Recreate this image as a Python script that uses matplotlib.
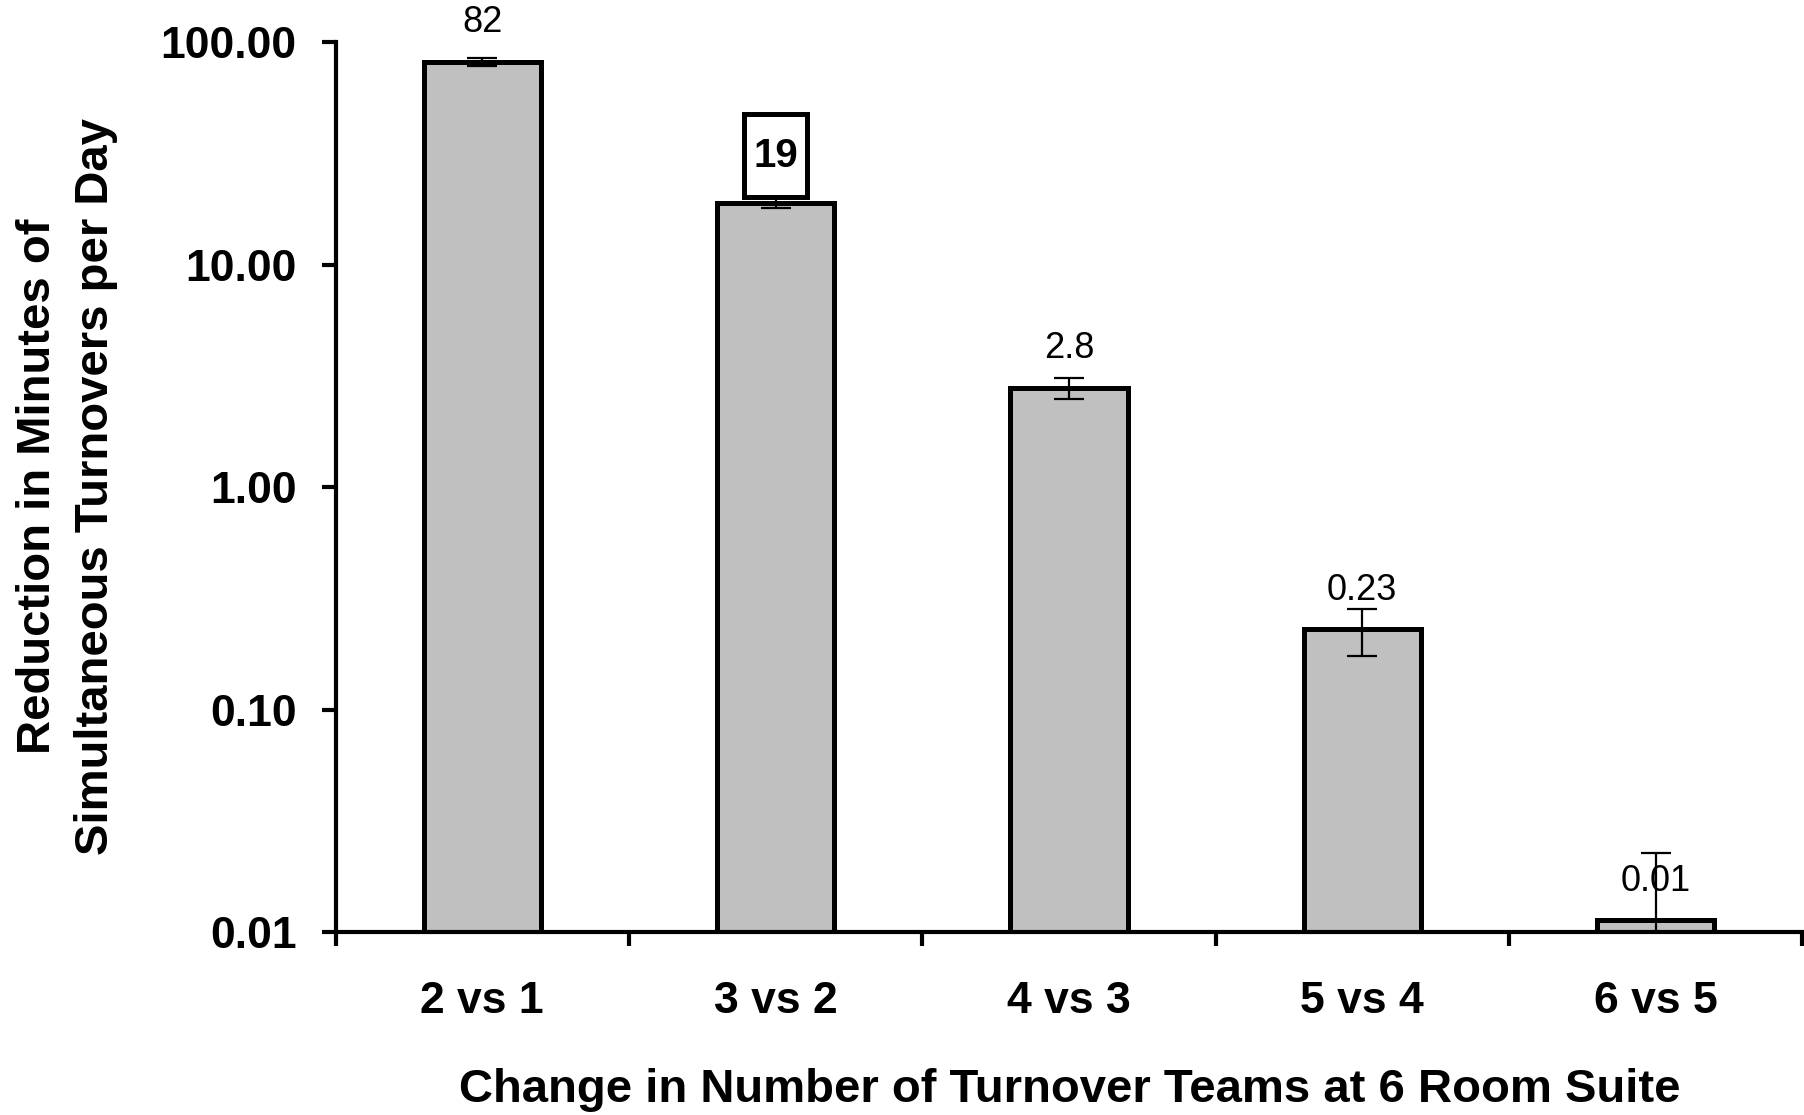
import matplotlib
matplotlib.use("Agg")
import matplotlib.pyplot as plt
from matplotlib.ticker import FixedLocator, FuncFormatter, NullLocator
from matplotlib.offsetbox import AnnotationBbox, DrawingArea
from matplotlib.patches import Rectangle
from matplotlib.text import Text

plt.rcParams["font.family"] = ["Liberation Sans", "DejaVu Sans"]

# データ
categories = ["2 vs 1", "3 vs 2", "4 vs 3", "5 vs 4", "6 vs 5"]
values = [82, 19, 2.8, 0.23, 0.0113]
err_low = [4.0, 1.0, 0.3, 0.055, 0.0112]
err_high = [3.5, 1.0, 0.3, 0.055, 0.0115]
labels = ["82", "19", "2.8", "0.23", "0.01"]
boxed = [False, True, False, False, False]
yticks = [0.01, 0.1, 1, 10, 100]

fig = plt.figure(figsize=(18.04, 11.15), dpi=100)
ax = fig.add_axes([0.186, 0.164, 0.813, 0.798])

x = list(range(len(categories)))
ax.bar(x, values, width=0.4, bottom=0, color="#C0C0C0", edgecolor="black",
       linewidth=3.6, zorder=2)
ax.errorbar(x, values, yerr=[err_low, err_high], fmt="none", ecolor="black",
            elinewidth=1.6, capsize=11, capthick=1.6, zorder=3)

ax.set_yscale("log")
ax.set_ylim(0.01, 100)
ax.set_xlim(-0.5, len(categories) - 0.5)

ax.yaxis.set_major_locator(FixedLocator(yticks))
ax.yaxis.set_minor_locator(NullLocator())
ax.yaxis.set_major_formatter(FuncFormatter(lambda v, p: "%.2f" % v))

# x軸: 目盛はカテゴリの境界、ラベルは中央
ax.set_xticks([i - 0.5 for i in range(len(categories) + 1)])
ax.set_xticklabels([])
ax.set_xticks(x, minor=True)
ax.set_xticklabels(categories, minor=True)
ax.tick_params(axis="x", which="minor", length=0, pad=35, labelsize=32)
ax.tick_params(axis="x", which="major", length=10, width=3, direction="out")
ax.tick_params(axis="y", which="major", length=10, width=3, direction="out",
               labelsize=32, pad=18)
for t in ax.get_xticklabels(minor=True) + ax.get_yticklabels():
    t.set_fontweight("bold")

ax.spines["top"].set_visible(False)
ax.spines["right"].set_visible(False)
ax.spines["left"].set_linewidth(3)
ax.spines["bottom"].set_linewidth(3)

# 値ラベル
for i, (v, lab, b) in enumerate(zip(values, labels, boxed)):
    if b:
        # 縦長の枠付きラベル
        bw, bh = 46, 60
        da = DrawingArea(bw, bh, 0, 0, clip=False)
        da.add_artist(Rectangle((0, 0), bw, bh, fc="white", ec="black", lw=3.6))
        da.add_artist(Text(bw / 2, bh / 2, lab, ha="center", va="center",
                           fontsize=29, fontweight="bold"))
        ab = AnnotationBbox(da, (i, v), xybox=(0, 34), boxcoords="offset points",
                            frameon=False, box_alignment=(0.5, 0.5), pad=0)
        ab.set_zorder(5)
        ax.add_artist(ab)
    else:
        ax.annotate(lab, (i, v), xytext=(0, 28), textcoords="offset points",
                    ha="center", va="center", fontsize=26)

fig.text(0.593, 0.022, "Change in Number of Turnover Teams at 6 Room Suite",
         ha="center", va="center", fontsize=34, fontweight="bold")
fig.text(0.037, 0.564, "Reduction in Minutes of\nSimultaneous Turnovers per Day",
         ha="center", va="center", rotation=90, fontsize=34, fontweight="bold",
         linespacing=1.4)

fig.savefig("out.png", dpi=100)
